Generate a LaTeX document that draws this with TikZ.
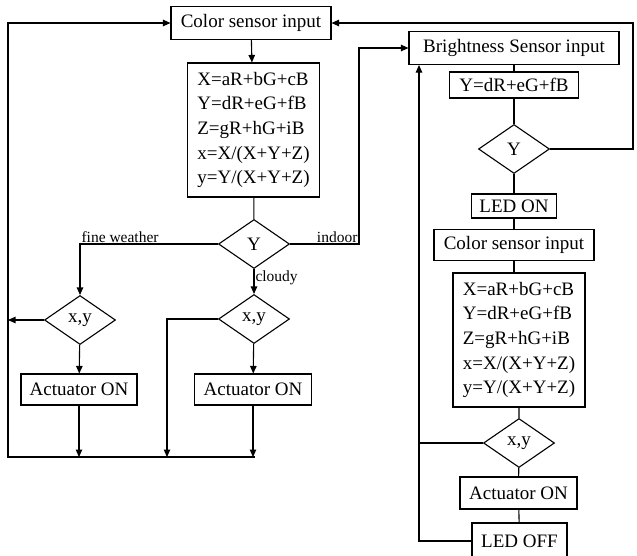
\documentclass[tikz,border=0pt]{standalone}
\usepackage{fontspec}
\setmainfont{Liberation Serif}
\usetikzlibrary{shapes.geometric,arrows.meta}
\begin{document}
\begin{tikzpicture}[x=1pt,y=-1pt,line width=1.1pt,>={Triangle[length=7.5pt,width=6.5pt]},
        box/.style={draw,inner sep=2pt,font=\fontsize{19}{23}\selectfont},
        eqbox/.style={draw,align=left,inner sep=3pt,minimum width=132pt,minimum height=134pt,font=\fontsize{19}{24.6}\selectfont},
        dec/.style={draw,diamond,inner sep=0pt,minimum width=71pt,minimum height=49pt,font=\fontsize{19}{23}\selectfont},
        lbl/.style={inner sep=1pt,font=\fontsize{15.5}{18}\selectfont}]
        \useasboundingbox (0,0) rectangle (637,555);

        \node[box,minimum width=160pt,minimum height=33pt] (cs1) at (251,23) {Color sensor input};
        \node[eqbox] (eq1) at (253.5,130) {X=aR+bG+cB\\Y=dR+eG+fB\\Z=gR+hG+iB\\x=X/(X+Y+Z)\\y=Y/(X+Y+Z)};
        \node[dec] (yd1) at (254,244) {Y};
        \node[dec] (xy1) at (80,320) {x,y};
        \node[dec] (xy2) at (254,319) {x,y};
        \node[box,minimum width=116pt,minimum height=31pt] (act1) at (79,389.5) {Actuator ON};
        \node[box,minimum width=117pt,minimum height=31pt] (act2) at (253,389.5) {Actuator ON};

        \node[box,minimum width=210pt,minimum height=33pt] (bright) at (514,48) {Brightness Sensor input};
        \node[box,minimum width=129pt,minimum height=26pt] (yeq) at (514,85) {Y=dR+eG+fB};
        \node[dec] (yd2) at (514,149) {Y};
        \node[box,minimum width=85pt,minimum height=24pt] (ledon) at (514,206) {LED ON};
        \node[box,minimum width=160pt,minimum height=31pt] (cs2) at (514,245) {Color sensor input};
        \node[eqbox] (eq2) at (519,340) {X=aR+bG+cB\\Y=dR+eG+fB\\Z=gR+hG+iB\\x=X/(X+Y+Z)\\y=Y/(X+Y+Z)};
        \node[dec] (xy3) at (519,443) {x,y};
        \node[box,minimum width=117pt,minimum height=32pt] (act3) at (518.5,493) {Actuator ON};
        \node[box,minimum width=95pt,minimum height=36pt] (ledoff) at (519.5,541) {LED OFF};

        \coordinate (bl) at (8,457);
        \coordinate (br) at (255,457);
        \coordinate (lp) at (167,457);
        \coordinate (tr) at (633,23);
        \coordinate (in) at (359,48);
        \coordinate (lf) at (419,541);

        \draw[->] (br) -- (bl) -- (bl |- cs1) -- (cs1);
        \draw[->] (cs1) -- (eq1);
        \draw (eq1) -- (yd1);
        \draw[->] (yd1) -| node[lbl,pos=0.5,above right] {fine weather} (xy1);
        \draw[->] (yd1) -- node[lbl,pos=0,below right] {cloudy} (xy2);
        \draw[->] (yd1) -| node[lbl,pos=0.5,above left] {indoor} (in) -- (bright);
        \draw[->] (xy1) -- (xy1 -| bl);
        \draw[->] (xy1) -- (act1);
        \draw[->] (xy2) -- (act2);
        \draw[->] (xy2) -| (lp);
        \draw[->] (act1) -- (act1 |- bl);
        \draw[->] (act2) -- (act2 |- bl);

        \draw (bright) -- (yeq) -- (yd2) -- (ledon) -- (cs2);
        \draw (cs2.south) -- (cs2.south |- eq2.north);
        \draw (eq2) -- (xy3) -- (act3) -- (ledoff);
        \draw[->] (yd2) -| (tr) -- (cs1);
        \draw (xy3) -- (xy3 -| lf);
        \draw[->] (ledoff) -| (bright.south -| lf);
\end{tikzpicture}
\end{document}
